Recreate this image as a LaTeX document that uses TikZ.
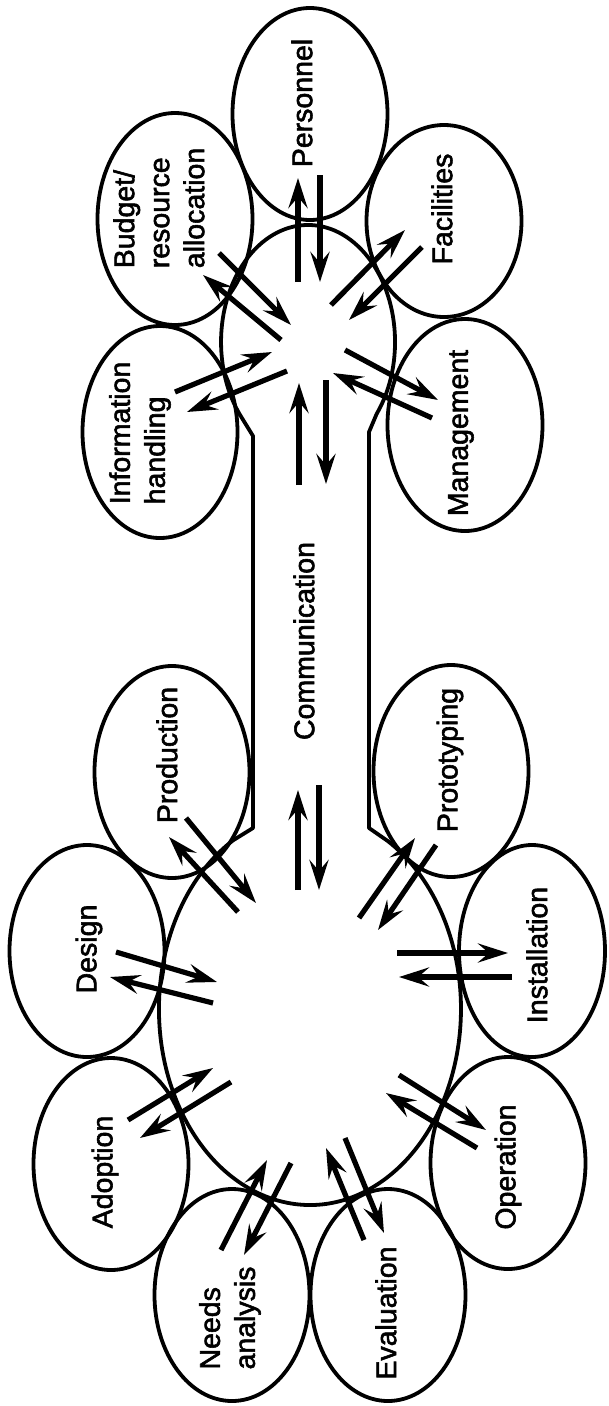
\documentclass[tikz,border=0pt]{standalone}
\usepackage{fontspec}
\setmainfont[FakeBold=2]{Liberation Sans}
\usetikzlibrary{shapes.geometric,arrows.meta}
\begin{document}
\begin{tikzpicture}[x=1pt,y=-1pt,
    sat/.style={draw,ellipse,line width=3.8pt,minimum width=155pt,minimum height=212pt,inner sep=0pt},
    lbl/.style={rotate=90,align=left,inner sep=0pt,font=\fontsize{28.5}{35}\selectfont},
    flow/.style={line width=5.2pt,-{Stealth[length=30pt,width=19pt,inset=11pt]}}]
\useasboundingbox (0,0) rectangle (608,1406);

% hub with corridor
\draw[line width=3.8pt,line join=round] (253,436) -- (253,828) -- (233.1,840.3)
    arc[start angle=239.4,end angle=-59,x radius=151,y radius=196]
    -- (369,828) -- (369,432) -- (376.6,414)
    arc[start angle=38,end angle=-218,x radius=87,y radius=117] -- cycle;

% ellipses round the hub
\node[sat] (pers) at (310,114) {};
\node[sat] (budg) at (175,219) {};
\node[sat,minimum height=192pt] (faci) at (444,221) {};
\node[sat] (info) at (160,432) {};
\node[sat] (mana) at (465,425) {};
\node[sat] (prod) at (172,772) {};
\node[sat] (prot) at (451,771) {};
\node[sat] (desi) at (87,951) {};
\node[sat,minimum width=146pt] (inst) at (532,951) {};
\node[sat] (adop) at (111,1164) {};
\node[sat] (oper) at (508,1163) {};
\node[sat] (need) at (232,1295) {};
\node[sat] (eval) at (388,1295) {};

% labels
\node[lbl] (persL) at (302,103) {Personnel};
\node[lbl] (budgL) at (159,208) {Budget/\\resource\\allocation};
\node[lbl] (faciL) at (442,209) {Facilities};
\node[lbl] (infoL) at (140,433) {Information\\handling};
\node[lbl] (manaL) at (461,433) {Management};
\node[lbl] (commL) at (304,641) {Communication};
\node[lbl] (prodL) at (167,755) {Production};
\node[lbl] (protL) at (450,760) {Prototyping};
\node[lbl] (desiL) at (89,949) {Design};
\node[lbl] (instL) at (537,955) {Installation};
\node[lbl] (adopL) at (105,1172) {Adoption};
\node[lbl] (operL) at (508,1167) {Operation};
\node[lbl] (needL) at (230,1318) {Needs\\analysis};
\node[lbl] (evalL) at (386,1313) {Evaluation};

% arrow ends
\coordinate (persO1) at (298,282); \coordinate (persO2) at (298,178);
\coordinate (persI1) at (320,175); \coordinate (persI2) at (320,282);
\coordinate (budgI1) at (219,253); \coordinate (budgI2) at (291,325);
\coordinate (budgO1) at (281,340); \coordinate (budgO2) at (203,275);
\coordinate (faciO1) at (331,305); \coordinate (faciO2) at (405,230);
\coordinate (faciI1) at (422,247); \coordinate (faciI2) at (349,320);
\coordinate (infoI1) at (175,392); \coordinate (infoI2) at (272,352);
\coordinate (infoO1) at (287,371); \coordinate (infoO2) at (187,412);
\coordinate (manaO1) at (345,350); \coordinate (manaO2) at (438,400);
\coordinate (manaI1) at (432,418); \coordinate (manaI2) at (333,373);
\coordinate (commU1) at (299,485); \coordinate (commU2) at (299,383);
\coordinate (commD1) at (326,380); \coordinate (commD2) at (326,484);
\coordinate (commV1) at (298,890); \coordinate (commV2) at (298,790);
\coordinate (commW1) at (319,785); \coordinate (commW2) at (319,890);
\coordinate (prodI1) at (186,818); \coordinate (prodI2) at (256,903);
\coordinate (prodO1) at (238,912); \coordinate (prodO2) at (169,837);
\coordinate (protO1) at (359,918); \coordinate (protO2) at (415,838);
\coordinate (protI1) at (436,845); \coordinate (protI2) at (378,930);
\coordinate (desiI1) at (116,952); \coordinate (desiI2) at (217,982);
\coordinate (desiO1) at (213,1003); \coordinate (desiO2) at (110,977);
\coordinate (instO1) at (397,953); \coordinate (instO2) at (508,953);
\coordinate (instI1) at (512,977); \coordinate (instI2) at (399,977);
\coordinate (adopI1) at (128,1120); \coordinate (adopI2) at (213,1068);
\coordinate (adopO1) at (231,1082); \coordinate (adopO2) at (140,1138);
\coordinate (operO1) at (399,1075); \coordinate (operO2) at (486,1130);
\coordinate (operI1) at (477,1148); \coordinate (operI2) at (386,1093);
\coordinate (needI1) at (221,1250); \coordinate (needI2) at (267,1160);
\coordinate (needO1) at (291,1163); \coordinate (needO2) at (244,1255);
\coordinate (evalI1) at (364,1240); \coordinate (evalI2) at (326,1148);
\coordinate (evalO1) at (345,1138); \coordinate (evalO2) at (384,1233);

% arrows
\draw[flow] (persO1) -- (persO2);
\draw[flow] (persI1) -- (persI2);
\draw[flow] (budgI1) -- (budgI2);
\draw[flow] (budgO1) -- (budgO2);
\draw[flow] (faciO1) -- (faciO2);
\draw[flow] (faciI1) -- (faciI2);
\draw[flow] (infoI1) -- (infoI2);
\draw[flow] (infoO1) -- (infoO2);
\draw[flow] (manaO1) -- (manaO2);
\draw[flow] (manaI1) -- (manaI2);
\draw[flow] (commU1) -- (commU2);
\draw[flow] (commD1) -- (commD2);
\draw[flow] (commV1) -- (commV2);
\draw[flow] (commW1) -- (commW2);
\draw[flow] (prodI1) -- (prodI2);
\draw[flow] (prodO1) -- (prodO2);
\draw[flow] (protO1) -- (protO2);
\draw[flow] (protI1) -- (protI2);
\draw[flow] (desiI1) -- (desiI2);
\draw[flow] (desiO1) -- (desiO2);
\draw[flow] (instO1) -- (instO2);
\draw[flow] (instI1) -- (instI2);
\draw[flow] (adopI1) -- (adopI2);
\draw[flow] (adopO1) -- (adopO2);
\draw[flow] (operO1) -- (operO2);
\draw[flow] (operI1) -- (operI2);
\draw[flow] (needI1) -- (needI2);
\draw[flow] (needO1) -- (needO2);
\draw[flow] (evalI1) -- (evalI2);
\draw[flow] (evalO1) -- (evalO2);
\end{tikzpicture}
\end{document}
